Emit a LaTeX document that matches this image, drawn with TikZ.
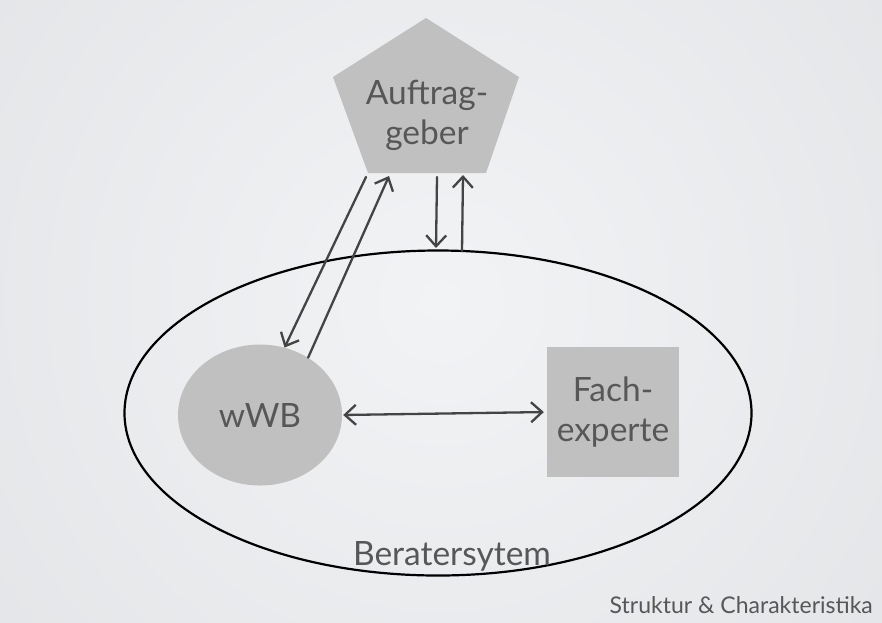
\documentclass[tikz,border=0pt]{standalone}
\usepackage{fontspec}
\setmainfont{Lato}
\usetikzlibrary{arrows.meta,shapes.geometric}
\definecolor{bgin}{HTML}{F2F3F5}
\definecolor{bgout}{HTML}{D8D9DC}
\definecolor{shapefill}{HTML}{C0C0C0}
\definecolor{ink}{HTML}{575757}
\definecolor{arrowink}{HTML}{444444}
\tikzset{
  labeltext/.style={text=ink, font=\fontsize{33.5}{40}\selectfont, align=center, inner sep=0pt},
  barb/.tip={Straight Barb[length=11pt,width=20pt]},
  link/.style={draw=arrowink, line width=2.3pt, line cap=round, -barb},
  twolink/.style={draw=arrowink, line width=2.3pt, line cap=round, barb-barb},
}
\begin{document}
\begin{tikzpicture}[x=1pt,y=-1pt]
  % slide background: soft radial gradient reaching the corners
  \begin{scope}
    \clip (0,0) rectangle (882,622);
    \shade[inner color=bgin, outer color=bgout] (441,300) circle (1080);
  \end{scope}
  \useasboundingbox (0,0) rectangle (882,622);

  % the consulting system
  \node[draw=black, ellipse, line width=2.2pt, minimum width=627pt,
        minimum height=325pt, inner sep=0pt] (sys) at (438,413) {};
  \node[labeltext, anchor=base] (ber) at (452,565) {Beratersytem};

  % client (pentagon)
  \fill[shapefill] (426,18) -- (519,77) -- (486,173) -- (368,173) -- (333,77) -- cycle;
  \node[labeltext] (auf) at (427,115) {Auftrag-\\geber};

  % members of the consulting system
  \node[ellipse, fill=shapefill, minimum width=164pt, minimum height=141pt,
        inner sep=0pt, labeltext] (wwb) at (260,415) {wWB};
  \node[rectangle, fill=shapefill, minimum width=132pt, minimum height=130pt,
        labeltext] (fach) at (613,412) {Fach-\\experte};

  % arrow end points at the pentagon and on the ellipse rim
  \coordinate (p1) at (366,177);
  \coordinate (p2) at (389,176);
  \coordinate (p3) at (437,177);
  \coordinate (s3) at (436,248);
  \coordinate (s4) at (462,251);
  \coordinate (p4) at (463,175);

  % connectors
  \draw[link] (p1) -- (wwb.70);
  \draw[link] (wwb.50) -- (p2);
  \draw[link] (p3) -- (s3);
  \draw[link] (s4) -- (p4);
  \draw[twolink, shorten <=1pt, shorten >=3pt] (wwb.east) -- (fach.west);

  % footer
  \node[text=ink, font=\fontsize{23}{28}\selectfont, anchor=base east, inner sep=0pt]
       (foot) at (873,613) {Struktur \& Charakteristika};
\end{tikzpicture}
\end{document}
